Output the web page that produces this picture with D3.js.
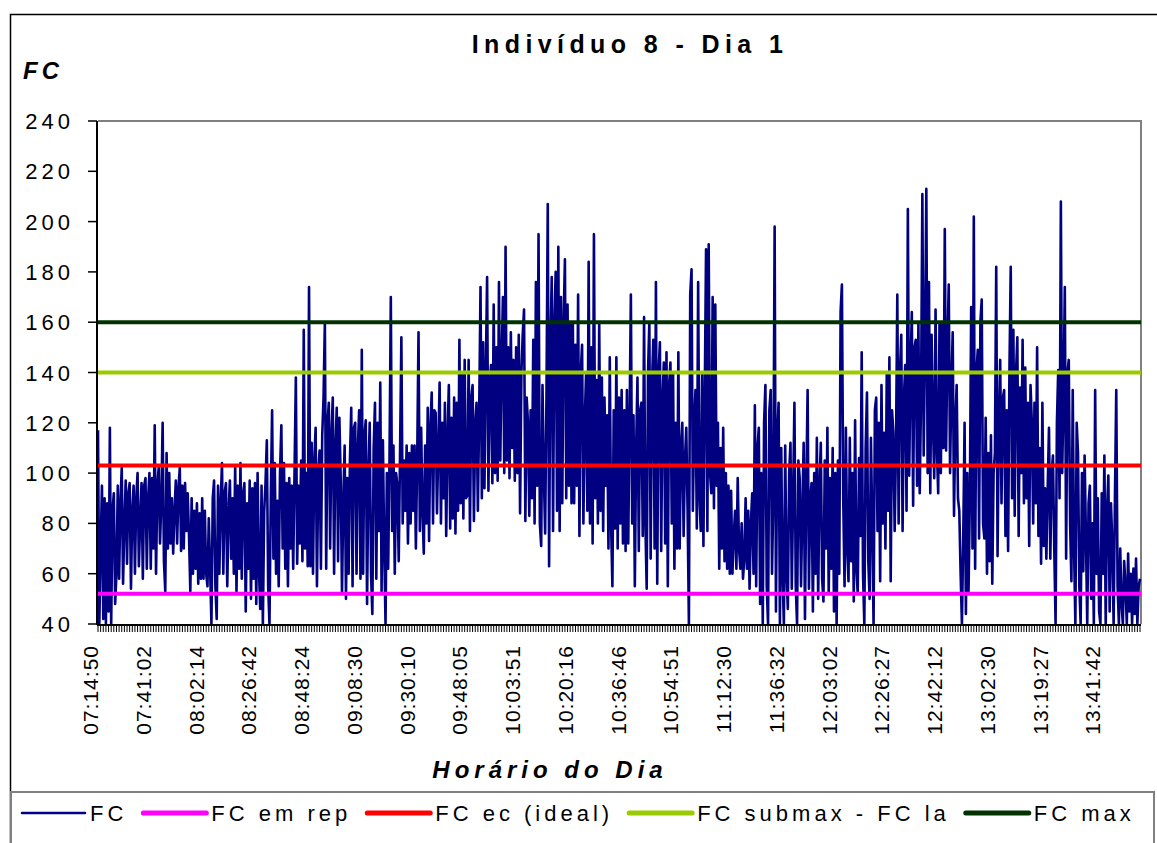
<!DOCTYPE html>
<html>
<head>
<meta charset="utf-8">
<script src="https://cdn.jsdelivr.net/npm/d3@7/dist/d3.min.js"></script>
<style>
  body { margin: 0; background: #fff; }
  text { font-family: "Liberation Sans", Arial, sans-serif; fill: #000; }
</style>
</head>
<body>
<div id="chart"></div>
<script>
// heart rate over the morning (one value every ~1.3px)
var fc = [
  117, 40, 70, 95, 42, 90, 40, 88, 45, 118, 40, 85, 92, 48, 60, 95, 58, 88, 102, 56,
  80, 97, 64, 92, 96, 54, 85, 95, 60, 90, 100, 63, 82, 96, 58, 95, 98, 62, 90, 100,
  62, 98, 70, 119, 60, 95, 102, 72, 88, 120, 65, 53, 108, 70, 100, 72, 90, 68, 85, 97,
  72, 94, 102, 69, 95, 70, 96, 77, 92, 75, 53, 90, 60, 85, 62, 88, 56, 84, 58, 90,
  58, 85, 60, 55, 82, 62, 40, 90, 97, 55, 42, 95, 60, 88, 104, 60, 92, 96, 55, 85,
  97, 66, 90, 60, 103, 53, 95, 62, 104, 58, 92, 96, 45, 88, 62, 97, 50, 94, 58, 96,
  48, 100, 62, 46, 95, 40, 85, 96, 113, 55, 40, 90, 125, 66, 104, 60, 89, 55, 100, 119,
  70, 104, 62, 96, 55, 98, 70, 95, 62, 100, 138, 64, 95, 72, 105, 65, 157, 70, 100, 63,
  174, 63, 112, 60, 105, 118, 55, 100, 109, 62, 115, 130, 160, 62, 120, 128, 70, 115, 130, 60,
  110, 126, 65, 122, 98, 52, 90, 111, 50, 98, 60, 105, 126, 55, 118, 120, 60, 110, 125, 58,
  149, 60, 115, 121, 48, 100, 120, 60, 44, 110, 128, 58, 120, 77, 136, 53, 113, 70, 40, 100,
  62, 105, 170, 77, 111, 60, 100, 95, 65, 108, 154, 80, 105, 85, 111, 72, 108, 80, 111, 85,
  111, 70, 105, 156, 77, 118, 85, 68, 111, 80, 126, 73, 118, 132, 80, 125, 124, 84, 110, 136,
  80, 120, 90, 128, 75, 115, 135, 78, 122, 82, 130, 76, 128, 85, 153, 88, 140, 82, 145, 90,
  91, 145, 77, 130, 135, 81, 120, 128, 85, 124, 174, 90, 152, 94, 140, 178, 93, 135, 143, 96,
  167, 100, 150, 97, 176, 105, 145, 170, 100, 190, 105, 150, 98, 156, 110, 145, 97, 150, 100, 155,
  84, 140, 155, 165, 81, 130, 120, 83, 125, 90, 153, 80, 176, 95, 195, 80, 71, 135, 100, 76,
  130, 207, 63, 150, 178, 77, 160, 180, 85, 190, 77, 170, 88, 160, 185, 90, 167, 95, 160, 88,
  160, 88, 151, 95, 171, 75, 140, 151, 80, 120, 139, 85, 184, 80, 150, 72, 195, 90, 137, 80,
  160, 85, 138, 77, 130, 95, 123, 70, 146, 80, 55, 125, 78, 146, 70, 130, 80, 133, 72, 125,
  69, 133, 72, 120, 171, 80, 123, 55, 110, 138, 69, 125, 128, 75, 162, 80, 54, 140, 160, 66,
  135, 153, 70, 176, 56, 140, 152, 69, 130, 144, 72, 148, 55, 135, 144, 80, 140, 62, 120, 70,
  148, 70, 110, 120, 75, 105, 118, 85, 40, 171, 181, 85, 120, 133, 78, 176, 90, 77, 140, 71,
  130, 189, 77, 191, 100, 92, 170, 86, 167, 95, 120, 62, 110, 70, 118, 65, 100, 62, 95, 60,
  93, 60, 75, 85, 62, 98, 70, 62, 80, 58, 66, 90, 62, 85, 54, 80, 92, 60, 127, 55,
  110, 118, 48, 100, 40, 120, 135, 55, 40, 125, 133, 60, 90, 198, 45, 115, 128, 40, 110, 60,
  40, 111, 60, 46, 100, 112, 54, 90, 128, 55, 40, 105, 98, 55, 85, 112, 42, 95, 133, 54,
  90, 96, 45, 100, 60, 114, 50, 95, 112, 58, 49, 105, 70, 118, 52, 98, 62, 110, 45, 100,
  40, 105, 60, 164, 175, 90, 55, 118, 70, 57, 114, 65, 100, 49, 121, 62, 52, 106, 75, 148,
  60, 40, 110, 132, 65, 50, 114, 80, 40, 125, 130, 77, 120, 57, 135, 80, 116, 70, 140, 85,
  146, 57, 125, 116, 77, 110, 171, 80, 140, 155, 77, 130, 143, 85, 205, 99, 140, 164, 87, 150,
  153, 95, 160, 92, 130, 211, 107, 150, 213, 100, 176, 92, 155, 120, 98, 165, 110, 92, 160, 100,
  160, 110, 197, 109, 150, 175, 100, 135, 156, 83, 120, 135, 90, 85, 60, 40, 75, 120, 44, 100,
  53, 90, 166, 70, 202, 62, 140, 149, 74, 160, 169, 80, 74, 122, 60, 108, 65, 115, 56, 100,
  108, 182, 67, 120, 145, 88, 130, 133, 75, 125, 69, 140, 182, 90, 157, 83, 140, 154, 75, 134,
  100, 153, 88, 142, 90, 128, 71, 135, 120, 80, 128, 88, 150, 75, 110, 64, 128, 71, 94, 66,
  94, 118, 66, 100, 107, 70, 40, 120, 141, 90, 208, 100, 130, 174, 66, 140, 145, 80, 57, 133,
  70, 40, 120, 108, 55, 40, 100, 61, 107, 75, 40, 88, 95, 50, 80, 40, 133, 60, 90, 45,
  40, 92, 60, 107, 40, 85, 99, 45, 88, 72, 40, 90, 133, 55, 40, 70, 48, 40, 65, 55,
  40, 68, 45, 60, 40, 62, 44, 66, 40, 55, 58
];

var timeLabels = ["07:14:50", "07:41:02", "08:02:14", "08:26:42", "08:48:24",
  "09:08:30", "09:30:10", "09:48:05", "10:03:51", "10:20:16", "10:36:46",
  "10:54:51", "11:12:30", "11:36:32", "12:03:02", "12:26:27", "12:42:12",
  "13:02:30", "13:19:27", "13:41:42"];
var labelEvery = 40;
var tickEvery = 2;

var refNames = ["FC em rep", "FC ec (ideal)", "FC submax - FC la", "FC max"];
var refValues = [52, 103, 140, 160];
var yTicks = [40, 60, 80, 100, 120, 140, 160, 180, 200, 220, 240];

var width = 1157,
    height = 843;

var refColors = ["#ff00ff", "#ff0000", "#99cc00", "#003300"];

var x = d3.scaleLinear()
    .domain([0, fc.length - 1])
    .range([98, 1140]);

var y = d3.scaleLinear()
    .domain([40, 240])
    .range([624, 121]);

var svg = d3.select("#chart").append("svg")
    .attr("width", width)
    .attr("height", height);

// chart frame
svg.append("rect")
    .attr("x", 10.5).attr("y", 14.5)
    .attr("width", 1160).attr("height", 850)
    .attr("fill", "none")
    .style("stroke", "#000")
    .style("stroke-width", 1.5);

// plot area border (grey top + right)
svg.append("path")
    .attr("d", "M98," + y(240) + "H1141V" + y(40))
    .attr("fill", "none")
    .style("stroke", "#808080")
    .style("stroke-width", 2);

// the FC trace
var line = d3.line()
    .x(function(d, i) { return x(i); })
    .y(function(d) { return y(d); });

svg.append("path")
    .datum(fc)
    .attr("d", line)
    .attr("fill", "none")
    .style("stroke", "#000080")
    .style("stroke-width", 2.6)
    .style("stroke-linejoin", "round");

// reference lines
svg.selectAll(".ref")
    .data(refValues)
    .enter().append("line")
    .attr("class", "ref")
    .attr("x1", x(0)).attr("x2", x(fc.length - 1) + 1)
    .attr("y1", function(d) { return y(d); })
    .attr("y2", function(d) { return y(d); })
    .style("stroke", function(d, i) { return refColors[i]; })
    .style("stroke-width", 4);

// y axis
svg.append("line")
    .attr("x1", 97).attr("x2", 97)
    .attr("y1", y(240)).attr("y2", y(40) + 1)
    .style("stroke", "#000").style("stroke-width", 2);

svg.selectAll(".ytick")
    .data(yTicks)
    .enter().append("line")
    .attr("class", "ytick")
    .attr("x1", 88).attr("x2", 97)
    .attr("y1", function(d) { return y(d); })
    .attr("y2", function(d) { return y(d); })
    .style("stroke", "#000").style("stroke-width", 1.5);

svg.selectAll(".ylab")
    .data(yTicks)
    .enter().append("text")
    .attr("class", "ylab")
    .attr("x", 74)
    .attr("y", function(d) { return y(d) + 8; })
    .attr("text-anchor", "end")
    .style("font-size", "22px")
    .style("letter-spacing", "4px")
    .text(function(d) { return d; });

// x axis, comb of small ticks
svg.append("line")
    .attr("x1", 97).attr("x2", 1141)
    .attr("y1", y(40) + 1).attr("y2", y(40) + 1)
    .style("stroke", "#000").style("stroke-width", 2);

svg.selectAll(".xtick")
    .data(d3.range(0, fc.length, tickEvery))
    .enter().append("line")
    .attr("class", "xtick")
    .attr("x1", function(d) { return x(d); })
    .attr("x2", function(d) { return x(d); })
    .attr("y1", y(40)).attr("y2", y(40) + 8)
    .style("stroke", "#000").style("stroke-width", 1);

svg.selectAll(".xlab")
    .data(timeLabels)
    .enter().append("text")
    .attr("class", "xlab")
    .attr("transform", function(d, i) {
      return "translate(" + x(i * labelEvery) + ",645) rotate(-90)";
    })
    .attr("text-anchor", "end")
    .style("font-size", "21px")
    .style("letter-spacing", "1px")
    .text(function(d) { return d; });

// titles
svg.append("text")
    .attr("x", 630).attr("y", 53)
    .attr("text-anchor", "middle")
    .style("font-size", "25px")
    .style("font-weight", "bold")
    .style("letter-spacing", "5.4px")
    .text("Indivíduo 8 - Dia 1");

svg.append("text")
    .attr("x", 23).attr("y", 79)
    .style("font-size", "24px")
    .style("font-weight", "bold")
    .style("font-style", "italic")
    .style("letter-spacing", "4px")
    .text("FC");

svg.append("text")
    .attr("x", 550).attr("y", 778)
    .attr("text-anchor", "middle")
    .style("font-size", "24px")
    .style("font-weight", "bold")
    .style("font-style", "italic")
    .style("letter-spacing", "5px")
    .text("Horário do Dia");

// legend
svg.append("rect")
    .attr("x", 11).attr("y", 792)
    .attr("width", 1143).attr("height", 80)
    .attr("fill", "#fff")
    .style("stroke", "#808080")
    .style("stroke-width", 2);

var legendNames = ["FC"].concat(refNames);
var legendColors = ["#000080"].concat(refColors);
var lx = 22;
legendNames.forEach(function(name, i) {
  svg.append("line")
      .attr("x1", lx).attr("x2", lx + 63)
      .attr("y1", 813).attr("y2", 813)
      .style("stroke", legendColors[i])
      .style("stroke-width", i === 0 ? 2.5 : 5)
      .style("stroke-linecap", "round");
  var t = svg.append("text")
      .attr("x", lx + 68).attr("y", 821)
      .style("font-size", "22px")
      .style("letter-spacing", "4px")
      .text(name);
  lx = lx + 68 + t.node().getComputedTextLength() + 16;
});
</script>
</body>
</html>
